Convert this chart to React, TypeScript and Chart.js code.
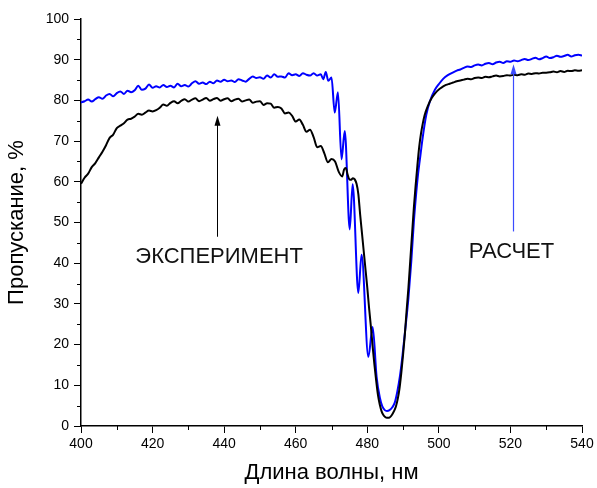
import React, { useEffect, useRef } from "react";
import { Chart, registerables } from "chart.js";

Chart.register(...registerables);

// ---- Data ----
const expWavelength = [
  400, 401, 402, 403, 404, 405, 406, 407, 408, 409,
  410, 411, 412, 413, 414, 415, 416, 417, 418, 419,
  420, 421, 422, 423, 424, 425, 426, 427, 428, 429,
  430, 431, 432, 433, 434, 435, 436, 437, 438, 439,
  440, 441, 442, 443, 444, 445, 446, 447, 448, 449,
  450, 451, 452, 453, 454, 455, 456, 457, 458, 459,
  460, 461, 462, 463, 464, 465, 466, 467, 468, 469,
  470, 471, 472, 473,
  473.5, 474, 474.5, 475, 475.5, 476, 476.5, 477, 477.5, 478,
  478.5, 479, 479.5, 480, 480.5, 481, 481.5, 482, 482.5, 483,
  483.5, 484, 484.5, 485, 485.5, 486, 486.5, 487, 487.5, 488,
  488.5, 489, 489.5, 490, 490.5, 491, 491.5, 492, 492.5, 493,
  493.5, 494, 494.5, 495, 495.5, 496,
  497, 498, 499, 500, 501, 502, 503, 504, 505, 506,
  507, 508, 509, 510, 511, 512, 513, 514, 515, 516,
  517, 518, 519, 520, 521, 522, 523, 524, 525, 526,
  527, 528, 529, 530, 531, 532, 533, 534, 535, 536,
  537, 538, 539, 540,
];
const expTransmission = [
  59.5, 61.0, 62.0, 63.6, 64.6, 66.0, 67.4, 69.0, 70.8, 71.6,
  73.2, 73.8, 74.4, 75.3, 75.5, 76.0, 76.7, 76.5, 77.0, 77.5,
  77.3, 77.6, 78.2, 79.0, 78.7, 79.4, 79.8, 79.3, 79.9, 80.3,
  79.7, 80.2, 80.5, 79.8, 80.2, 80.6, 79.9, 80.3, 80.6, 79.9,
  80.3, 80.5, 79.8, 80.2, 80.4, 79.7, 80.0, 80.2, 79.4, 79.7,
  79.8, 78.9, 79.3, 79.2, 78.2, 78.4, 78.0, 76.8, 77.0, 76.2,
  74.8, 75.3, 74.0, 72.3, 72.8, 71.0, 68.5, 68.8, 67.0, 64.8,
  65.6, 65.0, 62.5, 61.3,
  63.0, 63.4, 61.8, 60.6, 60.5, 60.9, 60.6, 59.5, 57.0, 52.0,
  47.5, 43.0, 38.5, 34.0, 29.0, 24.5, 19.5, 15.0, 11.0, 7.5,
  5.2, 3.6, 2.7, 2.2, 2.0, 2.0, 2.3, 2.9, 3.7, 4.8,
  6.6, 9.2, 13.0, 17.5, 22.5, 28.5, 34.0, 40.5, 47.0, 53.5,
  59.0, 64.0, 68.5, 71.8, 74.3, 76.3,
  78.8, 80.6, 81.8, 82.7, 83.3, 83.8, 84.1, 84.4, 84.7, 84.9,
  85.1, 85.3, 85.2, 85.5, 85.6, 85.5, 85.8, 85.7, 85.9, 86.1,
  85.9, 86.0, 86.2, 86.1, 86.3, 86.2, 86.4, 86.3, 86.6, 86.5,
  86.7, 86.6, 86.8, 86.8, 86.9, 87.1, 86.9, 87.2, 87.0, 87.3,
  87.2, 87.4, 87.3, 87.4,
];

const calcWavelength = [
  400, 401, 402, 403, 404, 405, 406, 407, 408, 409,
  410, 411, 412, 413, 414, 415, 416, 417, 418, 419,
  420, 421, 422, 423, 424, 425, 426, 427, 428, 429,
  430, 431, 432, 433, 434, 435, 436, 437, 438, 439,
  440, 441, 442, 443, 444, 445, 446, 447, 448, 449,
  450, 451, 452, 453, 454, 455, 456, 457, 458, 459,
  460, 461, 462, 463, 464, 465, 466, 467,
  467.7, 468.4, 469.1, 470, 470.9, 471.8, 472.8, 473.7, 475.1, 475.9,
  477.5, 478.4, 480.3, 481.5, 482.6, 483.5, 484.2, 484.9, 485.5, 486.2,
  487, 487.7, 488.4, 489.1, 489.8, 490.5, 491.5, 492.3, 493, 493.7,
  494.2, 494.7, 495.5, 496.5, 497.5, 498.9, 500, 501.2, 502.5, 504,
  505, 506, 507, 508, 509, 510, 511, 512, 513, 514,
  515, 516, 517, 518, 519, 520, 521, 522, 523, 524,
  525, 526, 527, 528, 529, 530, 531, 532, 533, 534,
  535, 536, 537, 538, 539, 540,
];
const calcTransmission = [
  79.5, 79.8, 80.2, 79.7, 80.3, 80.8, 80.4, 81.2, 81.6, 81.0,
  81.8, 82.2, 81.6, 82.4, 82.0, 82.5, 83.6, 82.6, 82.9, 83.9,
  83.1, 83.5, 83.2, 83.8, 83.3, 83.6, 83.2, 84.1, 83.5, 83.8,
  83.4, 84.2, 84.7, 84.1, 84.4, 84.0, 84.6, 84.2, 84.9, 84.6,
  85.1, 84.7, 84.9, 84.5, 85.2, 84.9, 84.6, 85.3, 85.9, 85.5,
  85.7, 85.3, 86.1, 85.6, 86.4, 85.8, 85.9, 85.6, 86.7, 86.2,
  86.4, 86.0, 86.7, 86.3, 86.1, 86.7, 86.1, 86.4,
  85.2, 87.0, 84.8, 85.6, 77.0, 82.0, 65.5, 72.5, 48.3, 59.4,
  32.7, 42.1, 17.0, 24.3, 12.1, 7.0, 4.8, 3.9, 3.7, 3.9,
  4.6, 5.8, 8.5, 12.1, 17.0, 22.8, 31.5, 40.5, 50.0, 57.5,
  62.0, 65.5, 71.0, 76.5, 79.8, 82.6, 84.0, 85.3, 86.2, 86.9,
  87.3, 87.6, 88.0, 88.3, 88.2, 88.6, 88.8, 88.6, 89.0, 89.2,
  88.9, 89.3, 89.5, 89.2, 89.6, 89.5, 89.8, 89.6, 89.9, 90.2,
  89.9, 90.2, 90.5, 90.1, 90.4, 90.8, 90.4, 90.6, 91.0, 90.7,
  90.9, 91.2, 90.8, 91.1, 91.2, 91.0,
];

const xMinorTicks = [410, 430, 450, 470, 490, 510, 530];
const yMinorTicks = [5, 15, 25, 35, 45, 55, 65, 75, 85, 95];

const labelExperiment = "ЭКСПЕРИМЕНТ";
const labelCalc = "РАСЧЕТ";
const xTitle = "Длина волны, нм";
const yTitle = "Пропускание, %";

const FONT = "Arial, 'Liberation Sans', sans-serif";

function drawArrow(ctx: CanvasRenderingContext2D, x: number, yFrom: number, yTo: number, color: string, width: number) {
  ctx.save();
  ctx.strokeStyle = color;
  ctx.fillStyle = color;
  ctx.lineWidth = width;
  ctx.beginPath();
  ctx.moveTo(x, yFrom);
  ctx.lineTo(x, yTo + 8);
  ctx.stroke();
  ctx.beginPath();
  ctx.moveTo(x, yTo);
  ctx.lineTo(x - 3, yTo + 10);
  ctx.lineTo(x + 3, yTo + 10);
  ctx.closePath();
  ctx.fill();
  ctx.restore();
}

const annotationPlugin = {
  id: "annotations",
  afterDatasetsDraw(chart: any) {
    const ctx: CanvasRenderingContext2D = chart.ctx;
    const xs = chart.scales.x;
    const ys = chart.scales.y;
    // minor ticks
    ctx.save();
    ctx.strokeStyle = "#000";
    ctx.lineWidth = 1;
    const bottom = chart.chartArea.bottom;
    const left = chart.chartArea.left;
    xMinorTicks.forEach((v) => {
      const px = Math.round(xs.getPixelForValue(v)) + 0.5;
      ctx.beginPath();
      ctx.moveTo(px, bottom);
      ctx.lineTo(px, bottom + 4);
      ctx.stroke();
    });
    yMinorTicks.forEach((v) => {
      const py = Math.round(ys.getPixelForValue(v)) + 0.5;
      ctx.beginPath();
      ctx.moveTo(left, py);
      ctx.lineTo(left - 4, py);
      ctx.stroke();
    });
    ctx.restore();

    // arrows
    drawArrow(ctx, Math.round(xs.getPixelForValue(437.9)) + 0.5, ys.getPixelForValue(46.5), ys.getPixelForValue(76.2), "#000", 1);
    drawArrow(ctx, Math.round(xs.getPixelForValue(520.8)) + 0.5, ys.getPixelForValue(47.8), ys.getPixelForValue(88.9), "#3b4bff", 1.2);

    // labels
    ctx.save();
    ctx.fillStyle = "#111";
    ctx.font = `22px ${FONT}`;
    ctx.textAlign = "center";
    ctx.textBaseline = "middle";
    ctx.fillText(labelExperiment, xs.getPixelForValue(438.6), ys.getPixelForValue(41.6));
    ctx.fillText(labelCalc, xs.getPixelForValue(520.3), ys.getPixelForValue(42.8));
    ctx.restore();
  },
};

export default function App() {
  const canvasRef = useRef<HTMLCanvasElement | null>(null);

  useEffect(() => {
    const canvas = canvasRef.current;
    if (!canvas) return;
    const expData = expWavelength.map((x, i) => ({ x, y: expTransmission[i] }));
    const calcData = calcWavelength.map((x, i) => ({ x, y: calcTransmission[i] }));

    const chart = new Chart(canvas, {
      type: "line",
      data: {
        datasets: [
          {
            label: "Эксперимент",
            data: expData,
            borderColor: "#000000",
            borderWidth: 2,
            pointRadius: 0,
            cubicInterpolationMode: "monotone",
            fill: false,
          },
          {
            label: "Расчет",
            data: calcData,
            borderColor: "#0000ff",
            borderWidth: 2,
            pointRadius: 0,
            cubicInterpolationMode: "monotone",
            fill: false,
          },
        ],
      },
      options: {
        responsive: false,
        animation: false,
        events: [],
        layout: { padding: { top: 19, right: 15, left: 0, bottom: 0 } },
        plugins: {
          legend: { display: false },
          tooltip: { enabled: false },
        },
        scales: {
          x: {
            type: "linear",
            min: 400,
            max: 540,
            afterFit: (scale: any) => {
              scale.height = 62;
            },
            ticks: {
              stepSize: 20,
              color: "#000",
              font: { family: FONT, size: 14 },
              padding: 3,
              maxRotation: 0,
            },
            grid: {
              drawOnChartArea: false,
              drawTicks: true,
              tickLength: 7,
              color: "#000",
            },
            border: { display: true, color: "#000", width: 1.5 },
            title: {
              display: true,
              text: xTitle,
              color: "#000",
              font: { family: FONT, size: 22 },
              padding: { top: 0, bottom: 2 },
            },
          },
          y: {
            type: "linear",
            min: 0,
            max: 100,
            afterFit: (scale: any) => {
              scale.width = 81;
            },
            ticks: {
              stepSize: 10,
              color: "#000",
              font: { family: FONT, size: 14 },
              padding: 5,
            },
            grid: {
              drawOnChartArea: false,
              drawTicks: true,
              tickLength: 7,
              color: "#000",
            },
            border: { display: true, color: "#000", width: 1.5 },
            title: {
              display: true,
              text: yTitle,
              color: "#000",
              font: { family: FONT, size: 22 },
              padding: { top: 4, bottom: 0 },
            },
          },
        },
      },
      plugins: [annotationPlugin],
    });
    return () => chart.destroy();
  }, []);

  return (
    <div style={{ position: "fixed", left: 0, top: 0, width: 597, height: 488, background: "#fff" }}>
      <canvas ref={canvasRef} width={597} height={488} style={{ display: "block" }} />
    </div>
  );
}
